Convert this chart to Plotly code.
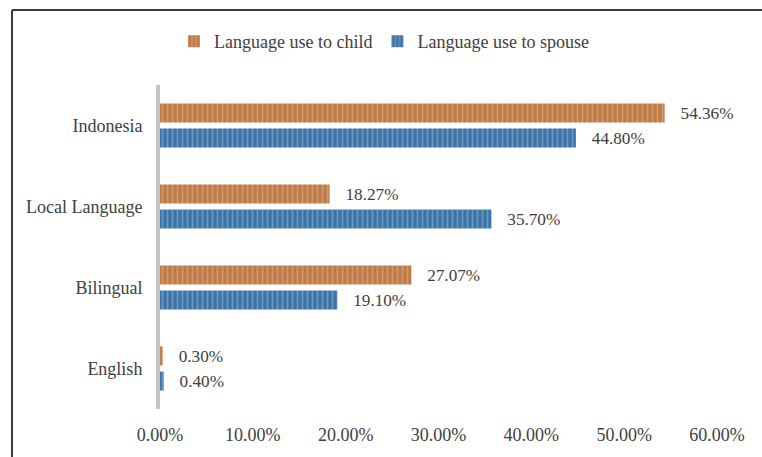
import plotly.graph_objects as go

categories = ["Indonesia", "Local Language", "Bilingual", "English"]
child_values = [54.36, 18.27, 27.07, 0.30]
spouse_values = [44.80, 35.70, 19.10, 0.40]
x_ticks = [0, 10, 20, 30, 40, 50, 60]
x_tick_labels = [f"{v:.2f}%" for v in x_ticks]

FONT = "Liberation Serif"
TXT = "#404040"
FS = 18

fig = go.Figure()
fig.add_trace(go.Bar(
    name="Language use to child", y=categories, x=child_values, orientation="h",
    text=[f"   {v:.2f}%" for v in child_values], textposition="outside",
    textfont=dict(family=FONT, size=FS, color=TXT), cliponaxis=False,
    marker=dict(color="#C07A45", line=dict(width=0),
                pattern=dict(shape="|", fgcolor="#D8B89C", bgcolor="#C07A45", size=5, solidity=0.35)),
))
fig.add_trace(go.Bar(
    name="Language use to spouse", y=categories, x=spouse_values, orientation="h",
    text=[f"   {v:.2f}%" for v in spouse_values], textposition="outside",
    textfont=dict(family=FONT, size=FS, color=TXT), cliponaxis=False,
    marker=dict(color="#3A74A8", line=dict(width=0),
                pattern=dict(shape="|", fgcolor="#9DB7CF", bgcolor="#3A74A8", size=5, solidity=0.35)),
))

L, R, T, B = 160, 45, 85, 44
W, H = 762, 457
pw, ph = W - L - R, H - T - B
def px(x): return (x - L) / pw
def py(y): return (H - B - y) / ph

fig.update_layout(
    width=W, height=H,
    margin=dict(l=L, r=R, t=T, b=B),
    paper_bgcolor="white", plot_bgcolor="white",
    barmode="group", bargap=0.38, bargroupgap=0.24,
    font=dict(family=FONT, size=FS, color=TXT),
    showlegend=True,
    legend=dict(orientation="h", x=px(384), y=py(41), xanchor="center", yanchor="middle",
                font=dict(family=FONT, size=FS, color=TXT), itemwidth=30,
                bgcolor="rgba(0,0,0,0)"),
    xaxis=dict(range=[0, 60], tickvals=x_ticks, ticktext=x_tick_labels, showgrid=False,
               zeroline=False, showline=False, ticks="", ticklabelstandoff=13,
               tickfont=dict(family=FONT, size=FS, color=TXT)),
    yaxis=dict(autorange="reversed", showline=True, linecolor="#C4C4C4", linewidth=4,
               showgrid=False, ticks="", ticklabelstandoff=10,
               tickfont=dict(family=FONT, size=FS, color=TXT)),
    shapes=[
        dict(type="line", xref="paper", yref="paper", x0=px(12), x1=px(12), y0=py(9), y1=py(470),
             line=dict(color="#3A3A3A", width=2)),
        dict(type="line", xref="paper", yref="paper", x0=px(12), x1=px(780), y0=py(9), y1=py(9),
             line=dict(color="#3A3A3A", width=2)),
    ],
)

fig.write_html("out.html")
